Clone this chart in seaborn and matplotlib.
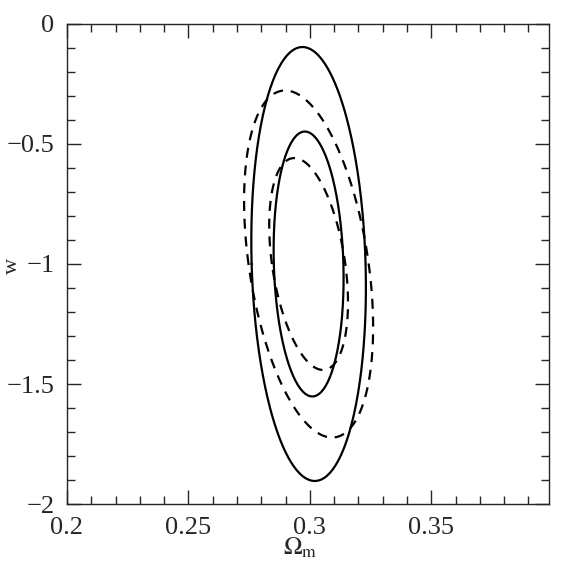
import numpy as np
import pandas as pd
import seaborn as sns
import matplotlib.pyplot as plt
from matplotlib.ticker import MultipleLocator

# fiducial model and parameter covariances (Omega_m, w) for the two cases
center_om = [0.2995, 0.2995]
center_w = [-1.0, -1.0]
sig_om = [0.0095, 0.0107]
sig_w = [0.3635, 0.2907]
rho = [-0.107, -0.364]
case_style = ["solid", "dashed"]
# delta chi^2 for 68% and 95% with 2 parameters
dchi2 = [2.30, 6.17]

x_ticks = [0.2, 0.25, 0.3, 0.35]
x_labels = ["0.2", "0.25", "0.3", "0.35"]
y_ticks = [-2, -1.5, -1, -0.5, 0]
y_labels = ["\u22122", "\u22121.5", "\u22121", "\u22120.5", "0"]

sns.set_style("ticks")
plt.rcParams["font.family"] = ["Liberation Serif", "DejaVu Serif"]
plt.rcParams["mathtext.fontset"] = "stix"


def contour(i, level, n=400):
    cov = np.array([[sig_om[i] ** 2, rho[i] * sig_om[i] * sig_w[i]],
                    [rho[i] * sig_om[i] * sig_w[i], sig_w[i] ** 2]])
    vals, vecs = np.linalg.eigh(cov)
    t = np.linspace(0, 2 * np.pi, n)
    circ = np.vstack([np.cos(t), np.sin(t)]) * np.sqrt(level * vals)[:, None]
    pts = vecs @ circ
    return pd.DataFrame({"om": center_om[i] + pts[0], "w": center_w[i] + pts[1]})


fig = plt.figure(figsize=(5.65, 5.77), dpi=100)
ax = fig.add_axes([67 / 565, 1 - 504.3 / 577, 482 / 565, 480.6 / 577])

for i, style in enumerate(case_style):
    ls = "-" if style == "solid" else (0, (4.5, 3.5))
    for lev in dchi2:
        df = contour(i, lev)
        sns.lineplot(data=df, x="om", y="w", sort=False, estimator=None,
                     color="black", lw=1.6, ax=ax, linestyle=ls)

ax.set_xlim(0.2, 0.3985)
ax.set_ylim(-2, 0)
ax.xaxis.set_minor_locator(MultipleLocator(0.01))
ax.yaxis.set_minor_locator(MultipleLocator(0.1))
ax.set_xticks(x_ticks)
ax.set_xticklabels(x_labels)
ax.set_yticks(y_ticks)
ax.set_yticklabels(y_labels)

ax.tick_params(which="both", direction="in", top=True, right=True,
               width=1.0, labelsize=19, pad=9)
ax.tick_params(which="major", length=10)
ax.tick_params(which="minor", length=5.5)
for sp in ax.spines.values():
    sp.set_linewidth(1.0)
    sp.set_visible(True)

ax.set_xlabel(r"$\Omega_{\rm m}$", fontsize=18)
ax.xaxis.set_label_coords(0.483, -0.066)
ax.set_ylabel("")
fig.text(3 / 565, 1 - 266 / 577, "w", rotation=90, ha="left", va="center",
         fontsize=16)

fig.savefig("out.png", dpi=100)
